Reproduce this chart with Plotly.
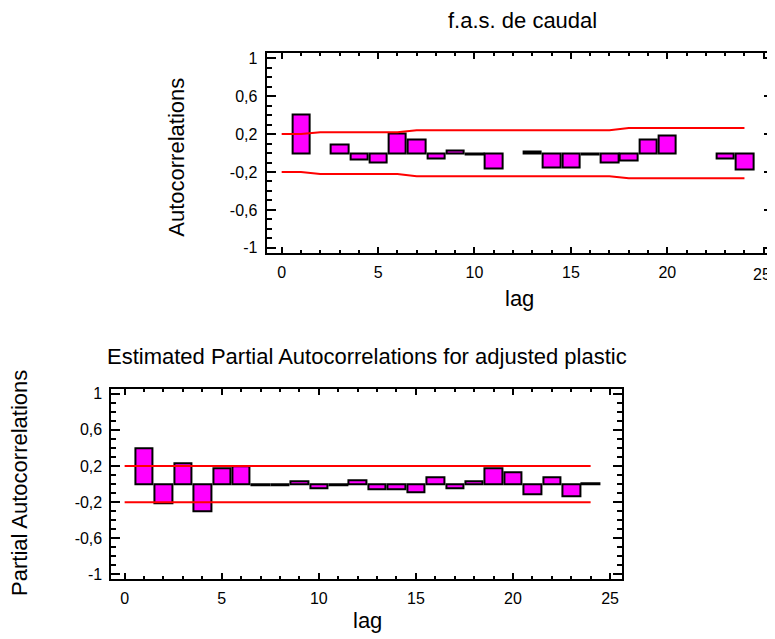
import plotly.graph_objects as go

# ---------------- data ----------------
lags = list(range(1, 25))
acf_values = [0.41, None, 0.086, -0.072, -0.097, 0.21, 0.148, -0.055, 0.028, -0.015,
              -0.159, None, 0.015, -0.152, -0.152, -0.015, -0.097, -0.076, 0.145, 0.186,
              None, None, -0.055, -0.176]
pacf_values = [0.40, -0.215, 0.236, -0.30, 0.175, 0.196, -0.01, -0.01, 0.03, -0.045,
               -0.01, 0.047, -0.06, -0.06, -0.087, 0.073, -0.04, 0.03, 0.18, 0.13,
               -0.107, 0.073, -0.13, 0.005]
limit_lags = list(range(0, 25))
acf_upper = [0.2, 0.2] + [0.22] * 5 + [0.24] * 11 + [0.265] * 7
acf_lower = [-0.2, -0.2] + [-0.22] * 5 + [-0.245] * 11 + [-0.265] * 7
pacf_upper = [0.2] * 25
pacf_lower = [-0.2] * 25

ytick_vals = [1, 0.6, 0.2, -0.2, -0.6, -1]
ytick_text = ["1", "0,6", "0,2", "-0,2", "-0,6", "-1"]
xtick_vals = [0, 5, 10, 15, 20, 25]

top_title = "f.a.s. de caudal"
bottom_title = "Estimated Partial Autocorrelations for adjusted plastic"

# ---------------- figure ----------------
OFF = 8            # default page body margin
W, H = 775 - OFF, 639 - OFF
FONT = "Liberation Sans, Arial, sans-serif"
BAR_COLOR = "#FF00FF"

fig = go.Figure()

fig.add_trace(go.Bar(x=lags, y=acf_values, width=0.9, xaxis="x", yaxis="y",
                     marker=dict(color=BAR_COLOR, line=dict(color="black", width=2)),
                     showlegend=False))
fig.add_trace(go.Scatter(x=limit_lags, y=acf_upper, mode="lines", xaxis="x", yaxis="y",
                         line=dict(color="red", width=2), showlegend=False))
fig.add_trace(go.Scatter(x=limit_lags, y=acf_lower, mode="lines", xaxis="x", yaxis="y",
                         line=dict(color="red", width=2), showlegend=False))

fig.add_trace(go.Bar(x=lags, y=pacf_values, width=0.9, xaxis="x2", yaxis="y2",
                     marker=dict(color=BAR_COLOR, line=dict(color="black", width=2)),
                     showlegend=False))
fig.add_trace(go.Scatter(x=limit_lags, y=pacf_upper, mode="lines", xaxis="x2", yaxis="y2",
                         line=dict(color="red", width=2), showlegend=False))
fig.add_trace(go.Scatter(x=limit_lags, y=pacf_lower, mode="lines", xaxis="x2", yaxis="y2",
                         line=dict(color="red", width=2), showlegend=False))


def px_x(x):
    return min(1.0, (x - OFF) / W)


def px_y(y):
    return 1 - (y - OFF) / H


def xaxis_cfg(domain, rng, anchor, texts):
    return dict(domain=domain, range=rng, anchor=anchor,
                tickmode="array", tickvals=xtick_vals, ticktext=texts,
                ticks="inside", ticklen=6, tickwidth=2, tickcolor="black",
                minor=dict(dtick=1, tick0=0, ticks="inside", ticklen=3, tickwidth=2,
                           tickcolor="black"),
                showline=True, linecolor="black", linewidth=2, mirror="ticks",
                showgrid=False, zeroline=False, ticklabelstandoff=4,
                ticklabeloverflow="allow",
                tickfont=dict(family=FONT, size=16, color="black"))


def yaxis_cfg(domain, anchor):
    return dict(domain=domain, range=[-1.05, 1.05], anchor=anchor,
                tickmode="array", tickvals=ytick_vals, ticktext=ytick_text,
                ticks="inside", ticklen=9, tickwidth=2, tickcolor="black",
                minor=dict(dtick=0.1, tick0=0, ticks="inside", ticklen=5, tickwidth=2,
                           tickcolor="black"),
                showline=True, linecolor="black", linewidth=2, mirror="ticks",
                showgrid=False, zeroline=False, ticklabelstandoff=4,
                tickfont=dict(family=FONT, size=16, color="black"))


xtick_text = [str(v) for v in xtick_vals]
top_xtick_text = xtick_text[:-1] + [""]   # last label drawn separately so it is not clipped

fig.update_layout(
    width=W, height=H,
    margin=dict(l=0, r=0, t=0, b=0),
    paper_bgcolor="white", plot_bgcolor="white",
    bargap=0,
    xaxis=xaxis_cfg([px_x(267.3), 1.0], [-0.78, 25.48], "y", top_xtick_text),
    yaxis=yaxis_cfg([px_y(251.7), px_y(50)], "x"),
    xaxis2=xaxis_cfg([px_x(111.7), px_x(623.3)], [-0.68, 25.6], "y2", xtick_text),
    yaxis2=yaxis_cfg([px_y(582.3), px_y(390)], "x2"),
)

# last tick label of the top axis
fig.add_annotation(xref="x", yref="paper", x=xtick_vals[-1], y=px_y(274),
                   xanchor="center", yanchor="middle", xshift=-2, showarrow=False,
                   text=xtick_text[-1], font=dict(family=FONT, size=16, color="black"))

ann_font = dict(family=FONT, size=22, color="black")
annotations = [
    dict(text=top_title, x=px_x(524), y=px_y(17)),
    dict(text="lag", x=px_x(521), y=px_y(298)),
    dict(text="Autocorrelations", x=px_x(177), y=px_y(155), textangle=-90),
    dict(text=bottom_title, x=px_x(368), y=px_y(357)),
    dict(text="Partial Autocorrelations", x=px_x(20), y=px_y(485), textangle=-90),
    dict(text="lag", x=px_x(368), y=px_y(624)),
]
for a in annotations:
    fig.add_annotation(xref="paper", yref="paper", xanchor="center", yanchor="middle",
                       showarrow=False, font=ann_font, **a)

fig.write_html("out.html")
